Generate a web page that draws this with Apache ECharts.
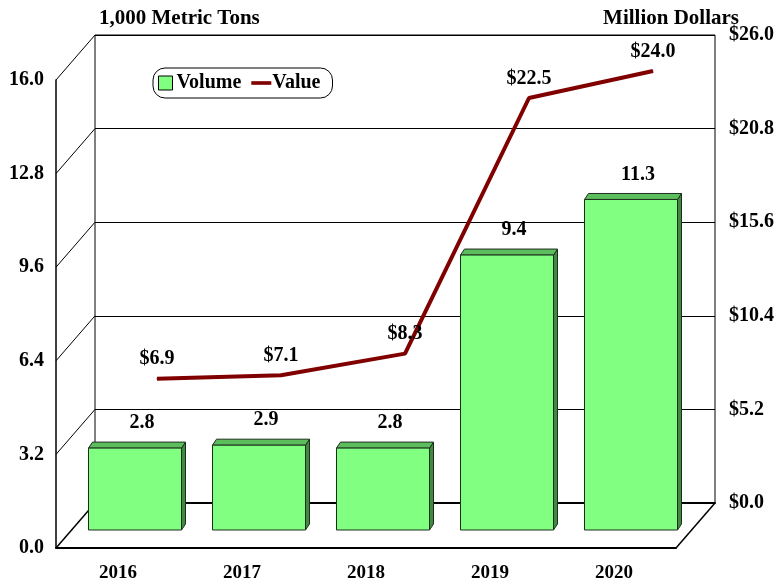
<!DOCTYPE html>
<html><head><meta charset="utf-8">
<script src="https://cdn.jsdelivr.net/npm/echarts@6/dist/echarts.min.js"></script>
<style>html,body{margin:0;padding:0;background:#fff}#c{width:778px;height:585px}</style>
</head><body><div id="c"></div>
<script>
var categories = ['2016', '2017', '2018', '2019', '2020'];
var volume = [2.8, 2.9, 2.8, 9.4, 11.3];
var value = [6.9, 7.1, 8.3, 22.5, 24.0];
var leftTicks = [0, 3.2, 6.4, 9.6, 12.8, 16.0];
var rightTicks = [0, 5.2, 10.4, 15.6, 20.8, 26.0];

var FONT = '"Liberation Serif", "Times New Roman", serif';
var BACK = {left: 95, top: 35, width: 620, height: 468};
var FRONT = {left: 56, top: 80, width: 620, height: 468};
var BARG = {left: 73, top: 62, width: 620, height: 468};
var DX = 4, DY = 6;

var chart = echarts.init(document.getElementById('c'));
var option = {
  animation: false,
  backgroundColor: '#fff',
  title: [
    {text: '1,000 Metric Tons', left: 94, top: 3, textStyle: {fontFamily: FONT, fontWeight: 'bold', fontSize: 21, color: '#000'}},
    {text: 'Million Dollars', right: 34, top: 3, textStyle: {fontFamily: FONT, fontWeight: 'bold', fontSize: 21, color: '#000'}}
  ],
  legend: {
    left: 153, top: 68, padding: [5, 12, 5, 5], itemGap: 10,
    itemWidth: 20, itemHeight: 14, symbolKeepAspect: true,
    borderColor: '#000', borderWidth: 1, borderRadius: 12, backgroundColor: '#fff',
    textStyle: {fontFamily: FONT, fontWeight: 'bold', fontSize: 20, color: '#000', padding: [0, 0, 0, -4]},
    data: [
      {name: 'Volume', icon: 'path://M0,0h14v14h-14z', itemStyle: {color: '#80ff80', borderColor: '#000', borderWidth: 1}},
      {name: 'Value', icon: 'path://M0,0h22v4h-22z', itemStyle: {color: '#800000', borderWidth: 0}}
    ]
  },
  grid: [
    {left: BACK.left, top: BACK.top, width: BACK.width, height: BACK.height, show: true, borderColor: '#000', borderWidth: 1, backgroundColor: 'transparent'},
    {left: FRONT.left, top: FRONT.top, width: FRONT.width, height: FRONT.height},
    {left: BARG.left, top: BARG.top, width: BARG.width, height: BARG.height}
  ],
  xAxis: [
    {type: 'category', gridIndex: 0, data: categories, axisLabel: {show: false}, axisTick: {show: false}, axisLine: {show: true, lineStyle: {color: '#000', width: 2}}},
    {type: 'category', gridIndex: 1, data: categories, axisTick: {show: false}, axisLine: {show: true, lineStyle: {color: '#000', width: 2}},
      axisLabel: {margin: 16, fontFamily: FONT, fontWeight: 'bold', fontSize: 19, color: '#000'}},
    {type: 'category', gridIndex: 2, data: categories, show: false}
  ],
  yAxis: [
    {type: 'value', gridIndex: 0, position: 'right', min: 0, max: 26, interval: 5.2,
      axisLine: {show: false}, axisTick: {show: false},
      splitLine: {show: true, lineStyle: {color: '#000', width: 1}},
      axisLabel: {margin: 14, fontFamily: FONT, fontWeight: 'bold', fontSize: 20, color: '#000',
        formatter: function (v) { return '$' + v.toFixed(1); }}},
    {type: 'value', gridIndex: 1, position: 'left', min: 0, max: 16, interval: 3.2,
      axisLine: {show: true, lineStyle: {color: '#000', width: 1.5}}, axisTick: {show: false}, splitLine: {show: false},
      axisLabel: {margin: 12, fontFamily: FONT, fontWeight: 'bold', fontSize: 20, color: '#000',
        formatter: function (v) { return v.toFixed(1); }}},
    {type: 'value', gridIndex: 2, min: 0, max: 16, show: false}
  ],
  series: [
    {
      name: 'Value', type: 'line', xAxisIndex: 0, yAxisIndex: 0, z: 3,
      data: value, symbol: 'circle', symbolSize: 1, showSymbol: true,
      lineStyle: {color: '#800000', width: 4}, itemStyle: {color: '#800000'},
      label: {show: true, position: 'top', distance: 9, fontFamily: FONT, fontWeight: 'bold', fontSize: 20, color: '#000',
        formatter: function (p) { return '$' + p.value.toFixed(1); }}
    },
    {
      name: 'Volume', type: 'custom', xAxisIndex: 2, yAxisIndex: 2, z: 4,
      itemStyle: {color: '#80ff80'},
      data: categories.map(function (c, i) { return [i, volume[i]]; }),
      encode: {x: 0, y: 1},
      renderItem: function (params, api) {
        var v = api.value(1);
        var top = api.coord([api.value(0), v]);
        var base = api.coord([api.value(0), 0]);
        var w = api.size([1, 0])[0] * 0.75;
        var x0 = top[0] - w / 2, x1 = top[0] + w / 2;
        var yT = top[1], yB = base[1];
        return {
          type: 'group',
          children: [
            {type: 'polygon', shape: {points: [[x1, yT], [x1 + DX, yT - DY], [x1 + DX, yB - DY], [x1, yB]]},
              style: {fill: '#408a40', stroke: '#1e2e1e', lineWidth: 1}},
            {type: 'polygon', shape: {points: [[x0, yT], [x0 + DX, yT - DY], [x1 + DX, yT - DY], [x1, yT]]},
              style: {fill: '#5cbd5c', stroke: '#1e2e1e', lineWidth: 1}},
            {type: 'rect', shape: {x: x0, y: yT, width: w, height: yB - yT},
              style: {fill: '#80ff80', stroke: '#1e2e1e', lineWidth: 1}},
            {type: 'text', style: {text: v.toFixed(1), x: top[0] + 7, y: yT - DY - 9, align: 'center', verticalAlign: 'bottom',
              font: 'bold 20px ' + FONT, fill: '#000'}}
          ]
        };
      }
    }
  ]
};
chart.setOption(option);

// side wall & floor edges connecting front axis to back wall
var lines = [];
leftTicks.forEach(function (t, i) {
  var yf = chart.convertToPixel({yAxisIndex: 1}, t);
  var yb = chart.convertToPixel({yAxisIndex: 0}, rightTicks[i]);
  lines.push({type: 'line', z: 1, shape: {x1: FRONT.left, y1: yf, x2: BACK.left, y2: yb},
    style: {stroke: '#000', lineWidth: i === 0 ? 1.5 : 1}});
});
var yf0 = chart.convertToPixel({yAxisIndex: 1}, 0);
var yb0 = chart.convertToPixel({yAxisIndex: 0}, 0);
lines.push({type: 'line', z: 1, shape: {x1: FRONT.left + FRONT.width, y1: yf0, x2: BACK.left + BACK.width, y2: yb0},
  style: {stroke: '#000', lineWidth: 1.5}});
chart.setOption({graphic: lines});
</script>
</body></html>
